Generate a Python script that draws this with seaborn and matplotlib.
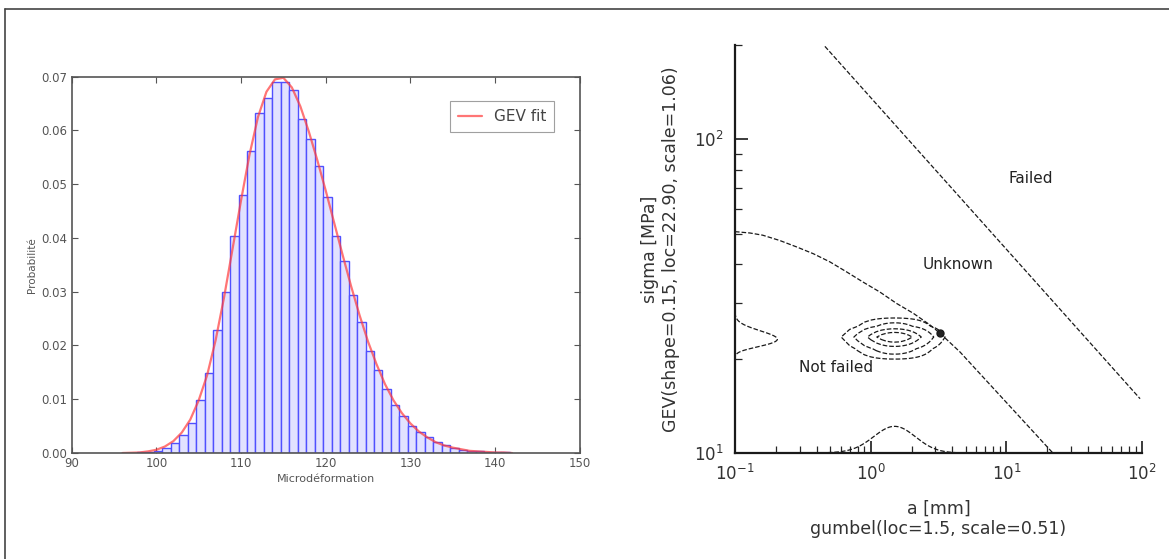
import numpy as np
import pandas as pd
import matplotlib.pyplot as plt
import seaborn as sns
from matplotlib.lines import Line2D

# ---- left panel: histogram of micro-deformation + GEV fit ----
bin_start = 97.7   # first bin edge
bin_width = 1.0
bar_heights = [0.0001, 0.0002, 0.0004, 0.0009, 0.0019, 0.0034, 0.0056, 0.0099,
               0.0149, 0.0228, 0.0300, 0.0403, 0.0480, 0.0562, 0.0632, 0.0660,
               0.0691, 0.0691, 0.0675, 0.0622, 0.0584, 0.0533, 0.0476, 0.0403,
               0.0358, 0.0294, 0.0243, 0.0189, 0.0154, 0.0120, 0.0090, 0.0069,
               0.0050, 0.0040, 0.0030, 0.0020, 0.0014, 0.0009, 0.0006, 0.0004,
               0.0003, 0.0002, 0.0001, 0.0001]

fit_x = [96, 97, 98, 99, 100, 101, 102, 103, 104, 105, 106, 107, 108, 109, 110,
         111, 112, 113, 114, 115, 116, 117, 118, 119, 120, 121, 122, 123, 124,
         125, 126, 127, 128, 129, 130, 131, 132, 133, 134, 135, 136, 137, 138,
         139, 140, 141, 142]
fit_y = [0.0000, 0.00005, 0.0001, 0.0003, 0.0006, 0.0012, 0.0022, 0.0038, 0.0062,
         0.0098, 0.0145, 0.0210, 0.0290, 0.0380, 0.0470, 0.0555, 0.0625, 0.0672,
         0.0695, 0.0698, 0.0680, 0.0645, 0.0598, 0.0545, 0.0488, 0.0428, 0.0368,
         0.0310, 0.0256, 0.0207, 0.0165, 0.0128, 0.0098, 0.0074, 0.0055, 0.0040,
         0.0029, 0.0020, 0.0014, 0.0010, 0.0007, 0.0004, 0.0003, 0.0002, 0.0001,
         0.0001, 0.0000]

# ---- right panel: failure map (crack size a vs stress sigma) ----
failed_a = [0.46, 96.6]
failed_s = [198.0, 14.9]

unknown_a = [0.10, 0.129, 0.16, 0.214, 0.285, 0.378, 0.50, 0.665, 0.877, 1.17,
             1.55, 2.06, 2.74, 3.24, 4.55, 22.0]
unknown_s = [50.8, 50.3, 49.5, 47.6, 45.4, 43.2, 40.7, 37.8, 35.1, 32.6,
             30.0, 27.9, 25.6, 24.1, 21.0, 10.0]

point_a, point_s = 3.24, 24.1

# distributions named in the axis labels
gumbel_loc, gumbel_scale = 1.5, 0.51
gev_shape, gev_loc, gev_scale = 0.15, 22.90, 1.06

region_labels = ["Failed", "Unknown", "Not failed"]
region_a = [15.0, 4.4, 0.56]
region_s = [75.0, 40.0, 18.8]


def gumbel_pdf(x):
    z = (x - gumbel_loc) / gumbel_scale
    return np.exp(-(z + np.exp(-z))) / gumbel_scale


def gev_pdf(x):
    z = (x - gev_loc) / gev_scale
    u = 1 - gev_shape * z
    ok = u > 0
    t = np.where(ok, np.abs(u) ** (1 / gev_shape), 0.0)
    return np.where(ok, t ** (1 - gev_shape) * np.exp(-t) / gev_scale, 0.0)


sns.set_theme(style="white")
plt.rcParams['font.family'] = ['DejaVu Sans']

fig = plt.figure(figsize=(11.69, 5.59), dpi=100)
ax1 = fig.add_axes([0.0613, 0.1896, 0.4347, 0.6732])
ax2 = fig.add_axes([0.6287, 0.1896, 0.3483, 0.7299])

# histogram
centers = bin_start + bin_width * (np.arange(len(bar_heights)) + 0.5)
hist_df = pd.DataFrame({"x": centers, "w": bar_heights})
sns.histplot(data=hist_df, x="x", weights="w", binwidth=bin_width,
             binrange=(bin_start, bin_start + bin_width * len(bar_heights)),
             ax=ax1, facecolor="#e2e2ff", edgecolor="#5050ff", linewidth=1.0)
sns.lineplot(x=fit_x, y=fit_y, ax=ax1, color="#ff3b3b", alpha=0.7, lw=1.6,
             label="GEV fit")

ax1.set_xlim(90, 150)
ax1.set_ylim(0, 0.07)
ax1.set_xticks(range(90, 151, 10))
yt = np.arange(0, 0.071, 0.01)
ax1.set_yticks(yt)
ax1.set_yticklabels(["%.2f" % v for v in yt])
ax1.tick_params(direction="in", length=4, width=0.8, colors="#555555",
                labelsize=8.5, top=True, right=True, bottom=True, left=True,
                labelcolor="#555555", pad=3)
for s in ax1.spines.values():
    s.set_color("#555555")
    s.set_linewidth(1.2)
ax1.set_xlabel("Microdéformation", fontsize=8, color="#555555", labelpad=3)
ax1.set_ylabel("Probabilité", fontsize=7.5, color="#555555", labelpad=3)
leg = ax1.legend(loc="upper right", fontsize=11, frameon=True, fancybox=False,
                 handlelength=1.6, borderpad=0.5, bbox_to_anchor=(0.965, 0.955))
leg.get_frame().set_edgecolor("#888888")
leg.get_frame().set_linewidth(0.8)
for t in leg.get_texts():
    t.set_color("#444444")

# failure map
ax2.set_xscale("log")
ax2.set_yscale("log")

a_grid = np.linspace(0.1, 100, 1000)
s_grid = np.linspace(10, 200, 100)
joint = gev_pdf(s_grid)[:, None] * gumbel_pdf(a_grid)[None, :]
ax2.contour(a_grid, s_grid, joint,
            levels=joint.max() * np.array([0.05, 0.16, 0.42, 0.68]),
            colors="k", linewidths=0.9, linestyles="--")

# marginals drawn along the axes
s_line = np.linspace(10, 40, 300)
sns.lineplot(x=0.1 + 0.3 * gev_pdf(s_line), y=s_line, ax=ax2, color="k", lw=0.9,
             linestyle="--", sort=False, estimator=None)
a_line = np.linspace(0.1, 10, 500)
sns.lineplot(x=a_line, y=10 + 3 * gumbel_pdf(a_line), ax=ax2, color="k", lw=0.9,
             linestyle="--", sort=False, estimator=None)

sns.lineplot(x=failed_a, y=failed_s, ax=ax2, color="k", lw=0.9, linestyle="--",
             sort=False, estimator=None)
sns.lineplot(x=unknown_a, y=unknown_s, ax=ax2, color="k", lw=0.9, linestyle="--",
             sort=False, estimator=None)
ax2.plot(point_a, point_s, "o", color="#222222", mec="k", ms=5)

for lab, xa, ys in zip(region_labels, region_a, region_s):
    ax2.text(xa, ys, lab, fontsize=11, ha="center", va="center", color="#222222")

ax2.set_xlim(0.1, 100)
ax2.set_ylim(10, 200)
ax2.spines["top"].set_visible(False)
ax2.spines["right"].set_visible(False)
for side in ["left", "bottom"]:
    ax2.spines[side].set_color("k")
    ax2.spines[side].set_linewidth(1.6)
ax2.tick_params(which="major", direction="in", length=9, width=1.2, labelsize=12,
                colors="k", labelcolor="#333333", left=True, bottom=True, pad=8)
ax2.tick_params(which="minor", direction="in", length=5, width=0.9,
                left=True, bottom=True)
ax2.set_xlabel("a [mm]\ngumbel(loc=1.5, scale=0.51)", fontsize=12.5,
               color="#333333", labelpad=11)
ax2.set_ylabel("sigma [MPa]\nGEV(shape=0.15, loc=22.90, scale=1.06)",
               fontsize=12.5, color="#333333", labelpad=10)

# thin frame (left and top edges) around the picture
fig.add_artist(Line2D([0.0043, 0.0043], [0, 0.984], transform=fig.transFigure,
                      color="#444444", lw=1.2))
fig.add_artist(Line2D([0.0043, 1.0], [0.984, 0.984], transform=fig.transFigure,
                      color="#444444", lw=1.2))

fig.savefig("out.png", dpi=100)
